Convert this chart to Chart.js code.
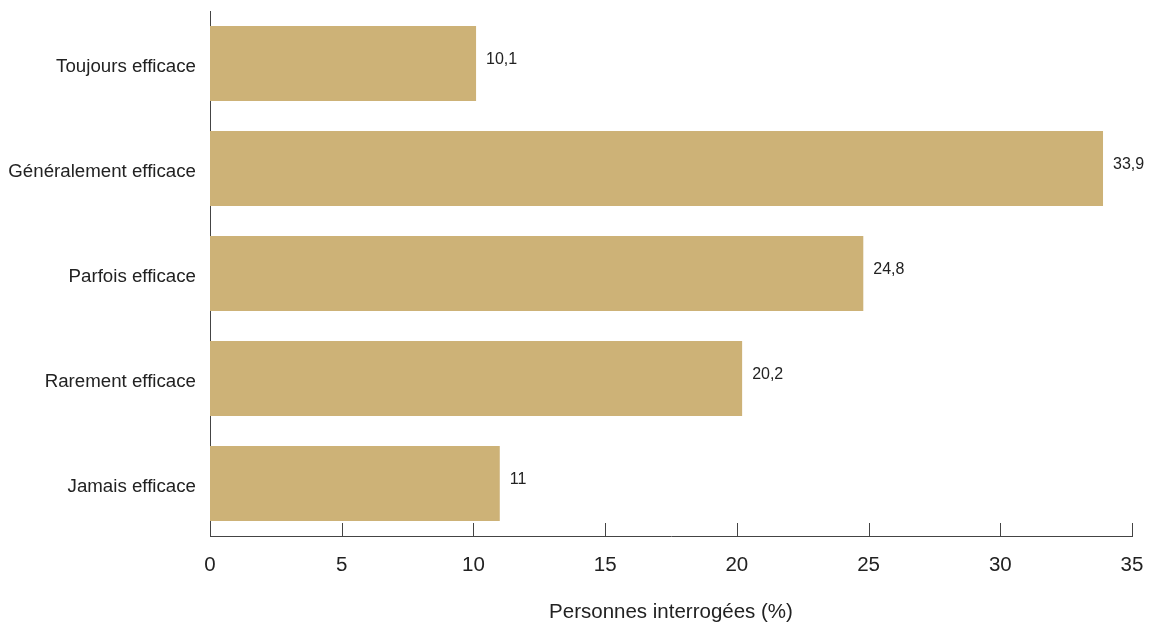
<!DOCTYPE html>
<html>
<head>
<meta charset="utf-8">
<script src="https://cdn.jsdelivr.net/npm/chart.js@4"></script>
<style>
  html, body { margin: 0; padding: 0; background: #fff; }
  #wrap { width: 1158px; height: 625px; }
</style>
</head>
<body>
<div id="wrap"><canvas id="graf"></canvas></div>
<script>
// données
const categories = ["Toujours efficace", "Généralement efficace", "Parfois efficace", "Rarement efficace", "Jamais efficace"];
const valeurs = [10.1, 33.9, 24.8, 20.2, 11];
const xTicks = [0, 5, 10, 15, 20, 25, 30, 35];
const titreX = "Personnes interrogées (%)";

const FONT = "'Liberation Sans', Arial, sans-serif";

// petites marques vers le haut sur l'axe x
const tickMarks = {
  id: "tickMarks",
  afterDraw(chart) {
    const x = chart.scales.x;
    const c = chart.ctx;
    c.save();
    c.strokeStyle = "#444";
    c.lineWidth = 1;
    xTicks.forEach((t) => {
      const px = Math.round(x.getPixelForValue(t)) + 0.5;
      c.beginPath();
      c.moveTo(px, x.top);
      c.lineTo(px, x.top - 13);
      c.stroke();
    });
    c.restore();
  },
};

// étiquettes de valeur à droite des barres
const valueLabels = {
  id: "valueLabels",
  afterDatasetsDraw(chart) {
    const c = chart.ctx;
    const meta = chart.getDatasetMeta(0);
    c.save();
    c.font = "16px " + FONT;
    c.fillStyle = "#222";
    c.textAlign = "left";
    c.textBaseline = "middle";
    meta.data.forEach((bar, i) => {
      const txt = String(valeurs[i]).replace(".", ",");
      c.fillText(txt, bar.x + 10, bar.y - 4);
    });
    c.restore();
  },
};

new Chart(document.getElementById("graf"), {
  type: "bar",
  data: {
    labels: categories,
    datasets: [{
      data: valeurs,
      backgroundColor: "#CDB277",
      barPercentage: 0.714,
      categoryPercentage: 1,
    }],
  },
  options: {
    indexAxis: "y",
    responsive: true,
    maintainAspectRatio: false,
    animation: false,
    layout: { padding: { top: 11, right: 26, bottom: 0, left: 0 } },
    plugins: { legend: { display: false }, tooltip: { enabled: false } },
    scales: {
      x: {
        min: 0,
        max: 35,
        afterFit: (s) => {
          s.height = 89;
          s.paddingLeft = 0;
          s.paddingRight = 0;
        },
        afterBuildTicks: (s) => { s.ticks = xTicks.map((v) => ({ value: v })); },
        grid: { display: false },
        border: { display: true, color: "#444", width: 1 },
        ticks: { padding: 9, color: "#222", font: { family: FONT, size: 20.5 } },
        title: {
          display: true,
          text: titreX,
          color: "#222",
          font: { family: FONT, size: 20.5 },
          padding: { top: 0, bottom: 0 },
        },
      },
      y: {
        afterFit: (s) => {
          s.width = 210;
          s.paddingTop = 0;
          s.paddingBottom = 0;
        },
        grid: { display: false },
        border: { display: true, color: "#444", width: 1 },
        ticks: { padding: 6, labelOffset: 3, color: "#222", font: { family: FONT, size: 18.7 } },
      },
    },
  },
  plugins: [tickMarks, valueLabels],
});
</script>
</body>
</html>
